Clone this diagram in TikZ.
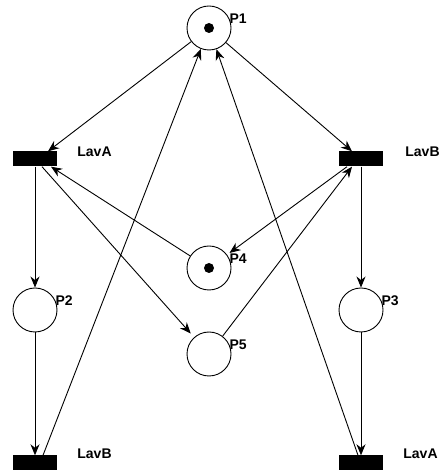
\documentclass[tikz,border=0pt]{standalone}
\usepackage{fontspec}
\setmainfont{Liberation Sans}
\usetikzlibrary{positioning,arrows.meta}

\begin{document}
\begin{tikzpicture}[
                x=1pt,y=1pt,
                place/.style={circle,draw,minimum size=44pt,inner sep=0pt,line width=0.9pt},
                trans/.style={rectangle,fill=black,minimum width=44pt,minimum height=15pt,inner sep=0pt},
                token/.style={circle,fill=black,minimum size=10pt,inner sep=0pt},
                lbl/.style={font=\bfseries\fontsize{14}{14}\selectfont,inner sep=0pt},
                arc/.style={-{Stealth[length=11pt,width=9pt,inset=3.5pt]},line width=0.9pt}
            ]
                \clip (0,0) rectangle (440,473);
                % places
                \node[place] (P1) at (209,445) {};
                \node[place] (P4) at (209,205) {};
                \node[place] (P5) at (209,119) {};
                \node[place] (P2) at (35,163)  {};
                \node[place] (P3) at (361,163) {};
                \node[token] (T1) at (P1) {};
                \node[token] (T4) at (P4) {};
                % transitions
                \node[trans] (LA)  at (35,314)  {};
                \node[trans] (LB)  at (361,314) {};
                \node[trans] (LB2) at (35,10)   {};
                \node[trans] (LA2) at (361,10)  {};
                % labels
                \node[lbl,anchor=west,right=-2pt of P1,yshift=9pt] (L1) {P1};
                \node[lbl,anchor=west,right=-2pt of P2,yshift=9pt] (L2) {P2};
                \node[lbl,anchor=west,right=-2pt of P3,yshift=9pt] (L3) {P3};
                \node[lbl,anchor=west,right=-2pt of P4,yshift=9pt] (L4) {P4};
                \node[lbl,anchor=west,right=-2pt of P5,yshift=9pt] (L5) {P5};
                \node[lbl,right=20pt of LA,yshift=7pt]  (LLA)  {LavA};
                \node[lbl,right=22pt of LB,yshift=7pt]  (LLB)  {LavB};
                \node[lbl,right=20pt of LB2,yshift=9pt] (LLB2) {LavB};
                \node[lbl,right=20pt of LA2,yshift=9pt] (LLA2) {LavA};
                % arcs
                \draw[arc] (P1) -- ([xshift=13pt]LA.north);
                \draw[arc] (P1) -- ([xshift=-9pt]LB.north);
                \draw[arc] (LA) -- (P2);
                \draw[arc] (LB) -- (P3);
                \draw[arc] (P2) -- (LB2);
                \draw[arc] (P3) -- (LA2);
                \draw[arc] ([xshift=8pt]LB2.north) -- (P1);
                \draw[arc] ([xshift=-3pt]LA2.north) -- (P1);
                \draw[arc] (P4) -- ([xshift=16pt]LA.south);
                \draw[arc,shorten >=5pt] ([xshift=7pt]LA.south) -- (P5);
                \draw[arc,shorten >=3pt] ([xshift=-14pt]LB.south) -- (P4);
                \draw[arc] (P5) -- ([xshift=-9pt]LB.south);
            \end{tikzpicture}
\end{document}
